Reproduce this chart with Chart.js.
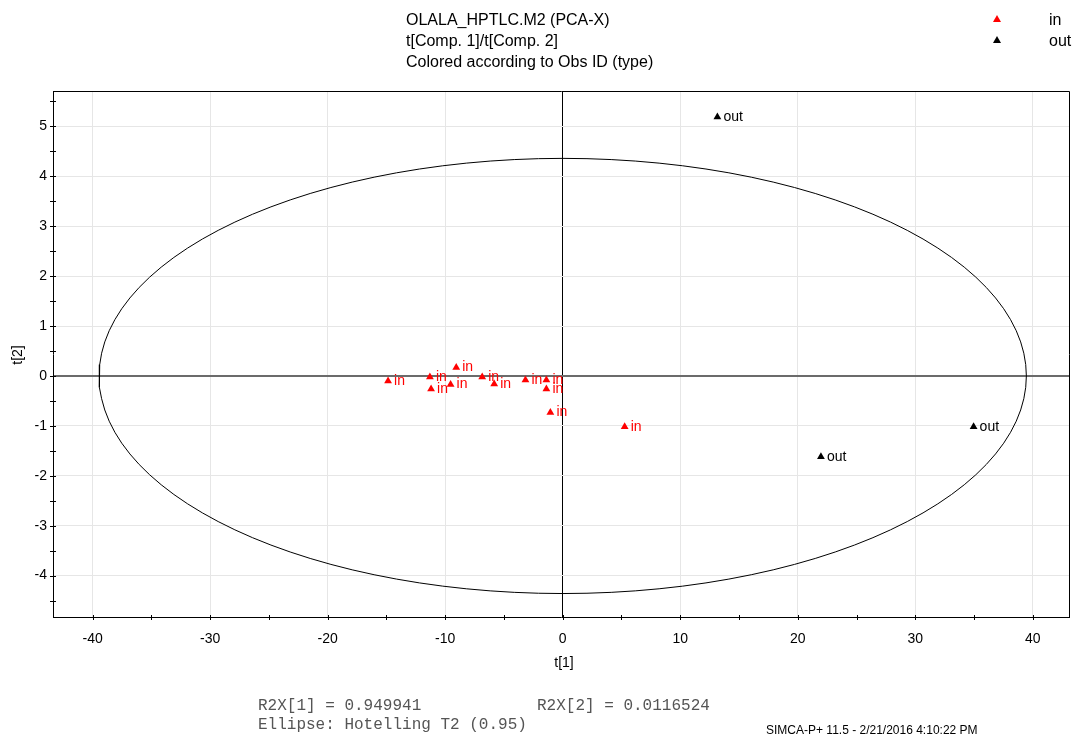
<!DOCTYPE html>
<html><head><meta charset="utf-8">
<script src="https://cdn.jsdelivr.net/npm/chart.js@4/dist/chart.umd.min.js"></script>
<style>html,body{margin:0;padding:0;background:#fff}#wrap{width:1074px;height:738px}</style>
</head><body><div id="wrap"><canvas id="c" width="1074" height="738"></canvas></div>
<script>
// ---- data ----
const inX  = [-14.86, -11.30, -11.20, -9.06, -9.54, -6.85, -5.83, -3.17, -1.39, -1.39, -1.05, 5.27];
const inY  = [-0.10, -0.02, -0.26, 0.17, -0.17, -0.02, -0.16, -0.08, -0.08, -0.26, -0.73, -1.02];
const outX = [13.16, 34.96, 21.97];
const outY = [5.19, -1.02, -1.62];
const seriesNames = ['in', 'out'];
const titleLines = ['OLALA_HPTLC.M2 (PCA-X)', 't[Comp. 1]/t[Comp. 2]', 'Colored according to Obs ID (type)'];
const xTitle = 't[1]';
const yTitle = 't[2]';
const footerLines = ['R2X[1] = 0.949941', 'R2X[2] = 0.0116524', 'Ellipse: Hotelling T2 (0.95)'];
const stampText = 'SIMCA-P+ 11.5 - 2/21/2016 4:10:22 PM';
const xRange = [-43.37, 43.12];
const yRange = [-4.83, 5.71];
const ellipseA = 39.45;   // Hotelling T2 semi-axis on t[1]
const ellipseB = 4.36;    // Hotelling T2 semi-axis on t[2]

// ---- build datasets ----
const toPts = (xs, ys) => xs.map((x, i) => ({x: x, y: ys[i]}));
const ellipsePts = [];
const NSEG = 120;
for (let i = 0; i <= NSEG; i++) {
  const t = 2 * Math.PI * i / NSEG;
  ellipsePts.push({x: ellipseA * Math.cos(t), y: ellipseB * Math.sin(t)});
}
const RED = '#ff0000', BLACK = '#000000';
const SANS = '"Liberation Sans", Arial, sans-serif';
const MONO = '"Liberation Mono", "Courier New", monospace';

const decor = {
  id: 'decor',
  afterDraw(chart) {
    const ctx = chart.ctx, a = chart.chartArea;
    const xs = chart.scales.x, ys = chart.scales.y;
    ctx.save();
    // frame top/right
    ctx.strokeStyle = '#000'; ctx.lineWidth = 1;
    ctx.beginPath();
    ctx.moveTo(Math.round(a.left) + 0.5, Math.round(a.top) + 0.5);
    ctx.lineTo(Math.round(a.right) - 0.5, Math.round(a.top) + 0.5);
    ctx.lineTo(Math.round(a.right) - 0.5, Math.round(a.bottom) + 0.5);
    ctx.stroke();
    // crossing tick marks
    ctx.beginPath();
    xs.ticks.forEach(t => {
      const px = Math.round(xs.getPixelForValue(t.value)) + 0.5;
      ctx.moveTo(px, a.bottom - 2); ctx.lineTo(px, a.bottom + 3);
    });
    ys.ticks.forEach(t => {
      const py = Math.round(ys.getPixelForValue(t.value)) + 0.5;
      ctx.moveTo(a.left - 3, py); ctx.lineTo(a.left + 3, py);
    });
    ctx.stroke();
    // point labels
    ctx.font = '14px ' + SANS;
    ctx.textBaseline = 'middle'; ctx.textAlign = 'left';
    chart.data.datasets.forEach((ds, di) => {
      if (!ds.pointLabel) return;
      const meta = chart.getDatasetMeta(di);
      ctx.fillStyle = ds.backgroundColor;
      meta.data.forEach(el => ctx.fillText(ds.pointLabel, el.x + 6, el.y));
    });
    // title
    ctx.fillStyle = '#000';
    ctx.font = '16px ' + SANS;
    titleLines.forEach((s, i) => ctx.fillText(s, 406, 21 + i * 21));
    // legend
    const tri = (cx, cy, col) => {
      ctx.fillStyle = col; ctx.beginPath();
      ctx.moveTo(cx, cy - 4); ctx.lineTo(cx + 4, cy + 3); ctx.lineTo(cx - 4, cy + 3); ctx.closePath(); ctx.fill();
    };
    tri(997, 19, RED); tri(997, 40, BLACK);
    ctx.fillStyle = '#000';
    ctx.fillText(seriesNames[0], 1049, 21);
    ctx.fillText(seriesNames[1], 1049, 42);
    // axis titles
    ctx.font = '14px ' + SANS;
    ctx.textAlign = 'center';
    ctx.fillText(xTitle, 564, 663);
    ctx.save(); ctx.translate(18, 355); ctx.rotate(-Math.PI / 2); ctx.fillText(yTitle, 0, 0); ctx.restore();
    // footer
    ctx.textAlign = 'left';
    ctx.fillStyle = '#555';
    ctx.font = '16px ' + MONO;
    ctx.fillText(footerLines[0], 258, 706);
    ctx.fillText(footerLines[1], 537, 706);
    ctx.fillText(footerLines[2], 258, 725);
    ctx.fillStyle = '#000';
    ctx.font = '12px ' + SANS;
    ctx.fillText(stampText, 766, 731);
    ctx.restore();
  }
};

new Chart(document.getElementById('c'), {
  type: 'scatter',
  data: {
    datasets: [
      {label: 'ellipse', data: ellipsePts, showLine: true, pointRadius: 0, pointHoverRadius: 0,
       borderColor: '#000', borderWidth: 1, fill: false, tension: 0, order: 3},
      {label: seriesNames[0], pointLabel: seriesNames[0], data: toPts(inX, inY), pointStyle: 'triangle',
       pointRadius: 4.5, backgroundColor: RED, borderColor: RED, borderWidth: 0, order: 2},
      {label: seriesNames[1], pointLabel: seriesNames[1], data: toPts(outX, outY), pointStyle: 'triangle',
       pointRadius: 4.5, backgroundColor: BLACK, borderColor: BLACK, borderWidth: 0, order: 1}
    ]
  },
  options: {
    responsive: false, animation: false,
    layout: {padding: {top: 91, right: 2, left: 0, bottom: 0}},
    plugins: {legend: {display: false}, tooltip: {enabled: false}, title: {display: false}},
    scales: {
      x: {
        type: 'linear', min: xRange[0], max: xRange[1],
        afterFit: s => { s.height = 121; },
        ticks: {stepSize: 5, includeBounds: false, autoSkip: false, maxRotation: 0, padding: 14,
                color: '#000', font: {family: SANS, size: 14},
                callback: v => (v % 10 === 0 ? String(v) : '')},
        grid: {drawTicks: false,
               color: c => (c.tick && c.tick.value === 0 ? '#000' : (c.tick && c.tick.value % 10 === 0 ? '#e6e6e6' : 'rgba(0,0,0,0)')),
               lineWidth: 1},
        border: {display: true, color: '#000', width: 1}
      },
      y: {
        type: 'linear', min: yRange[0], max: yRange[1],
        afterFit: s => { s.width = 53; },
        ticks: {stepSize: 0.5, includeBounds: false, autoSkip: false, padding: 6,
                color: '#000', font: {family: SANS, size: 14},
                callback: v => (Number.isInteger(v) ? String(v) : '')},
        grid: {drawTicks: false,
               color: c => (c.tick && c.tick.value === 0 ? '#6b6b6b' : (c.tick && Number.isInteger(c.tick.value) ? '#e6e6e6' : 'rgba(0,0,0,0)')),
               lineWidth: c => (c.tick && c.tick.value === 0 ? 2 : 1)},
        border: {display: true, color: '#000', width: 1}
      }
    }
  },
  plugins: [decor]
});
</script>
</body></html>
